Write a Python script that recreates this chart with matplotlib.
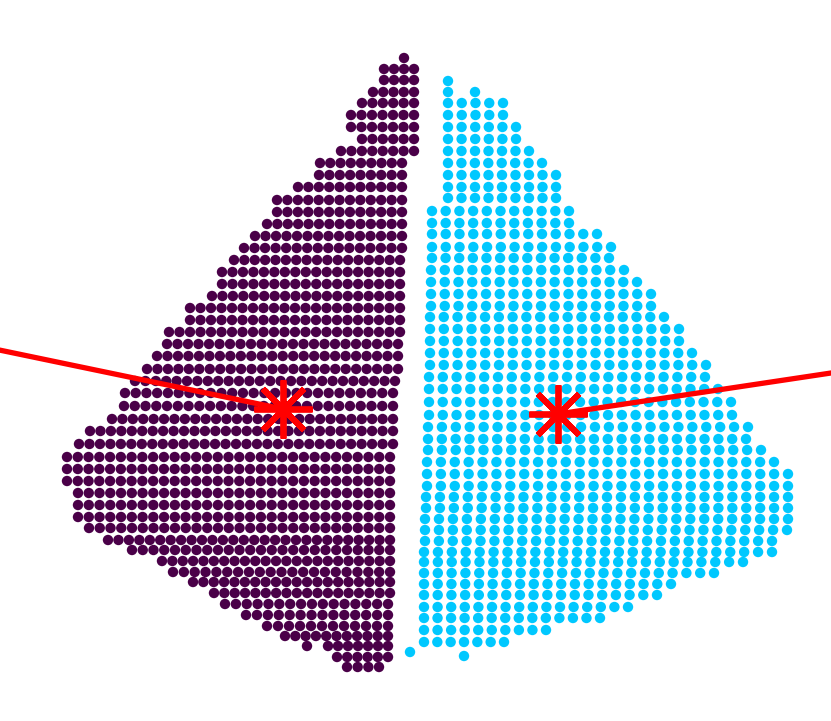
import numpy as np
import matplotlib
matplotlib.use("Agg")
import matplotlib.pyplot as plt

# ---- cluster 1 (purple): row y, left x, right x ----
purple_y = [58, 69, 80, 92, 103, 115, 127, 139, 151, 163, 175, 187, 200, 212, 224,
            236, 248, 260, 272, 284, 296, 308, 320, 332, 344, 356, 369, 381, 393,
            406, 419, 431, 444, 457, 469, 481, 493, 505, 517, 528, 540, 550, 561,
            572, 582, 593, 604, 615, 626, 636, 646, 657, 667]
purple_x0 = [404, 384, 384, 373, 362, 351, 351, 362, 341, 320, 319, 298, 277, 277, 267,
             255, 244, 234, 222, 222, 212, 190, 190, 169, 167, 157, 147, 135, 125,
             124, 112, 90, 79, 67, 67, 67, 78, 78, 78, 89, 108, 132, 162,
             173, 193, 214, 225, 246, 267, 285, 328, 337, 347]
purple_x1 = [404, 414, 414, 414, 414, 414, 414, 414, 414, 402, 402, 402, 402, 402, 402,
             402, 402, 400, 400, 400, 400, 400, 400, 400, 398, 398, 398, 395, 393,
             393, 393, 393, 393, 390, 390, 390, 390, 390, 390, 390, 390, 390, 390,
             390, 390, 390, 388, 388, 388, 388, 388, 388, 379]
purple_extra_x = [307]
purple_extra_y = [646]

# ---- cluster 2 (cyan): row y, left x, right x ----
cyan_y = [81, 92, 103, 115, 127, 139, 151, 163, 175, 187, 198, 211, 223, 234, 247,
          258, 270, 282, 294, 306, 317, 329, 341, 353, 365, 377, 389, 402, 415,
          427, 439, 450, 462, 474, 486, 497, 508, 519, 530, 541, 552, 562, 573,
          584, 595, 607, 618, 630, 642]
cyan_x0 = [448, 448, 448, 448, 448, 448, 448, 448, 448, 448, 448, 432, 432, 432, 432,
           432, 431, 431, 431, 431, 430, 430, 430, 430, 430, 429, 429, 429, 429,
           428, 428, 428, 427, 427, 427, 426, 426, 425, 425, 425, 424, 424, 424,
           424, 424, 424, 424, 424, 424]
cyan_x1 = [448, 448, 503, 503, 516, 516, 529, 542, 556, 556, 556, 569, 569, 597, 611,
           609, 624, 637, 651, 651, 664, 679, 679, 692, 706, 705, 718, 731, 732,
           748, 746, 761, 774, 788, 788, 788, 788, 788, 787, 772, 772, 743, 714,
           671, 657, 628, 600, 546, 504]
cyan_extra_x = [475, 410, 464]
cyan_extra_y = [92, 652, 656]

# ---- centroids and the lines that end at them ----
centroid_x = [283, 558]
centroid_y = [409, 414]
line1_x = [-20, 283]
line1_y = [346, 409]
line2_x = [558, 851]
line2_y = [414, 370]

PURPLE = "#4a0048"
CYAN = "#00c8ff"
RED = "#ff0000"


def grid_points(ys, x0s, x1s, spacing, ex, ey):
    px, py = [], []
    for y, a, b in zip(ys, x0s, x1s):
        n = max(1, int(round((b - a) / spacing)) + 1)
        xs = np.linspace(a, b, n)
        px.extend(xs)
        py.extend([y] * n)
    px.extend(ex)
    py.extend(ey)
    return np.array(px), np.array(py)


fig = plt.figure(figsize=(8.31, 7.21), dpi=100)
ax = fig.add_axes([0, 0, 1, 1])
ax.set_xlim(0, 831)
ax.set_ylim(721, 0)
ax.axis("off")

pxp, pyp = grid_points(purple_y, purple_x0, purple_x1, 10.6, purple_extra_x, purple_extra_y)
cxp, cyp = grid_points(cyan_y, cyan_x0, cyan_x1, 13.8, cyan_extra_x, cyan_extra_y)

ax.scatter(pxp, pyp, s=56, color=PURPLE, edgecolors="none", zorder=2)
ax.scatter(cxp, cyp, s=56, color=CYAN, edgecolors="none", zorder=2)

ax.plot(line1_x, line1_y, color=RED, lw=3.8, solid_capstyle="butt", zorder=3)
ax.plot(line2_x, line2_y, color=RED, lw=3.8, solid_capstyle="butt", zorder=3)
ax.plot(centroid_x, centroid_y, linestyle="none", marker=(8, 2, 0), markersize=42,
        markeredgewidth=4.2, markeredgecolor=RED, color=RED, zorder=4)

fig.savefig("out.png", dpi=100)
